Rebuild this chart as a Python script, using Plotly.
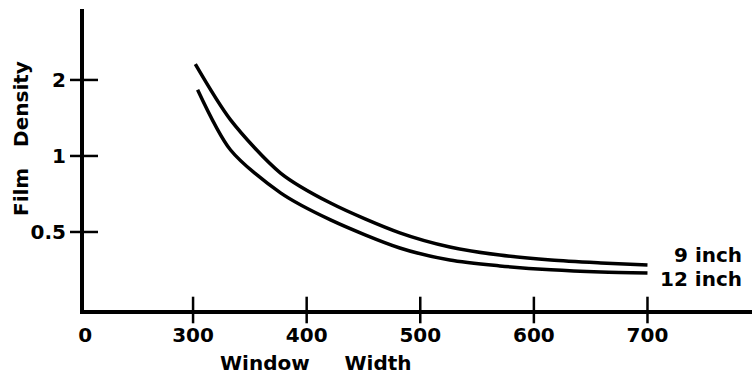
import math
import plotly.graph_objects as go

# Data
x_9inch = [302, 333, 377, 421, 482, 526, 570, 615, 659, 700]
y_9inch = [2.31, 1.39, 0.856, 0.651, 0.496, 0.436, 0.405, 0.387, 0.377, 0.370]
x_12inch = [304, 333, 377, 421, 482, 526, 570, 615, 659, 700]
y_12inch = [1.83, 1.056, 0.714, 0.558, 0.432, 0.387, 0.367, 0.354, 0.347, 0.344]

x_tick_text = ["0", "300", "400", "500", "600", "700"]
x_tick_vals = [205, 300, 400, 500, 600, 700]  # "0" sits at the broken-axis origin
y_tick_vals = [0.5, 1, 2]
y_tick_text = ["0.5", "1", "2"]

FONT = "DejaVu Sans"
bold = dict(family=FONT, size=20, color="black", weight="bold")

xr = [204, 792]
yr = [-0.61, 0.582]

fig = go.Figure()
line = dict(color="black", width=3.5, shape="spline", smoothing=0.8)
fig.add_trace(go.Scatter(x=x_9inch, y=y_9inch, mode="lines", line=line, name="9 inch"))
fig.add_trace(go.Scatter(x=x_12inch, y=y_12inch, mode="lines", line=line, name="12 inch"))

# crossing tick marks drawn as line markers on the axis lines
fig.add_trace(go.Scatter(x=x_tick_vals[1:], y=[10 ** yr[0]] * (len(x_tick_vals) - 1),
                         mode="markers", cliponaxis=False, hoverinfo="skip",
                         marker=dict(symbol="line-ns", size=19, line=dict(color="black", width=2.5))))
fig.add_trace(go.Scatter(x=[xr[0]] * len(y_tick_vals), y=y_tick_vals,
                         mode="markers", cliponaxis=False, hoverinfo="skip",
                         marker=dict(symbol="line-ew", size=20, line=dict(color="black", width=2.5))))

for name, xs, ys, shift in [("9 inch", x_9inch, y_9inch, 10), ("12 inch", x_12inch, y_12inch, -6)]:
    fig.add_annotation(x=xs[-1], y=math.log10(ys[-1]), text=name, showarrow=False,
                       xanchor="right", xshift=97, yshift=shift, font=bold)

fig.update_layout(
    width=752, height=375,
    margin=dict(l=84, r=0, t=9, b=65),
    paper_bgcolor="white", plot_bgcolor="white",
    showlegend=False,
    xaxis=dict(range=xr, tickvals=x_tick_vals, ticktext=x_tick_text,
               ticks="outside", ticklen=4, tickcolor="rgba(0,0,0,0)",
               showgrid=False, zeroline=False, tickfont=bold,
               showline=True, linecolor="black", linewidth=4),
    yaxis=dict(type="log", range=yr, tickvals=y_tick_vals, ticktext=y_tick_text,
               ticks="outside", ticklen=10, tickcolor="rgba(0,0,0,0)",
               showgrid=False, zeroline=False, tickfont=bold,
               showline=True, linecolor="black", linewidth=4),
)

fig.add_annotation(xref="paper", yref="paper", x=0.347, y=-0.176, xanchor="center", yanchor="middle",
                   text="Window&nbsp;&nbsp;&nbsp;&nbsp;&nbsp;Width", showarrow=False, font=bold)
fig.add_annotation(xref="paper", yref="paper", y=0.568, x=0, xshift=-63, xanchor="center", yanchor="middle",
                   text="Film&nbsp;&nbsp;&nbsp;Density", textangle=-90, showarrow=False, font=bold)

fig.write_html("out.html")
